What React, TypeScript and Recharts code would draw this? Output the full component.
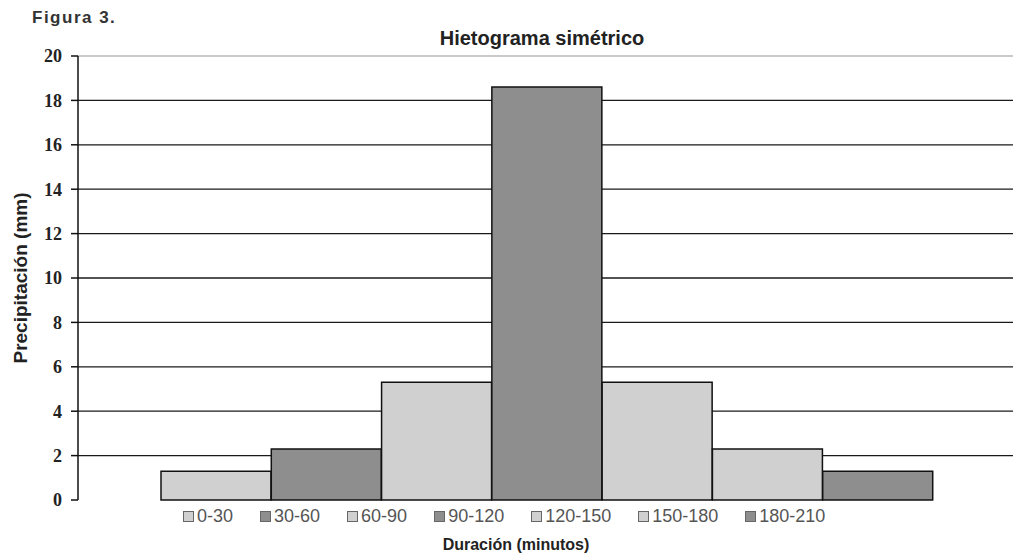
import {
  Bar,
  BarChart,
  CartesianGrid,
  Cell,
  Label,
  ReferenceLine,
  XAxis,
  YAxis,
} from "recharts";

const intervals = ["0-30", "30-60", "60-90", "90-120", "120-150", "150-180", "180-210"];
const precipitation = [1.3, 2.3, 5.3, 18.6, 5.3, 2.3, 1.3];
const shades = ["light", "dark", "light", "dark", "light", "light", "dark"];
const yTicks = [0, 2, 4, 6, 8, 10, 12, 14, 16, 18, 20];
const gridValues = [2, 4, 6, 8, 10, 12, 14, 16, 18];

const FILL: Record<string, string> = { light: "#d0d0d0", dark: "#8e8e8e" };
const SANS = "'Liberation Sans', Arial, sans-serif";

const data = intervals.map((name, i) => ({ name, value: precipitation[i], shade: shades[i] }));

export default function App() {
  return (
    <div
      style={{
        position: "absolute",
        left: 0,
        top: 0,
        width: 1014,
        height: 553,
        background: "#fff",
        fontFamily: SANS,
      }}
    >
      <div
        style={{
          position: "absolute",
          left: 32,
          top: 8,
          lineHeight: "20px",
          fontSize: 17,
          fontWeight: "bold",
          letterSpacing: 1.5,
          color: "#333",
        }}
      >
        Figura 3.
      </div>
      <div
        style={{
          position: "absolute",
          left: 542,
          top: 27,
          transform: "translateX(-50%)",
          lineHeight: "22px",
          fontSize: 20,
          fontWeight: "bold",
          color: "#222",
          whiteSpace: "nowrap",
        }}
      >
        Hietograma simétrico
      </div>

      <BarChart
        width={1014}
        height={553}
        data={data}
        barCategoryGap={0}
        margin={{ top: 56, right: 1, bottom: 53, left: 0 }}
      >
        <CartesianGrid
          vertical={false}
          horizontalValues={gridValues}
          stroke="#1a1a1a"
          strokeWidth={1.3}
        />
        <ReferenceLine y={20} stroke="#b8b8b8" strokeWidth={1.5} />
        <XAxis
          dataKey="name"
          height={0}
          tick={false}
          tickLine={false}
          axisLine={{ stroke: "#111", strokeWidth: 1.5 }}
          padding={{ left: 83, right: 80 }}
        />
        <YAxis
          width={78}
          domain={[0, 20]}
          ticks={yTicks}
          interval={0}
          tickSize={7}
          tickMargin={9}
          axisLine={{ stroke: "#111", strokeWidth: 1.5 }}
          tickLine={{ stroke: "#111", strokeWidth: 1.5 }}
          tick={{
            fontSize: 18,
            fontWeight: "bold",
            fontFamily: "'Liberation Serif', serif",
            fill: "#222",
          }}
        >
          <Label
            value="Precipitación (mm)"
            angle={-90}
            position="center"
            dx={-19}
            style={{ fontSize: 19, fontWeight: "bold", fontFamily: SANS, fill: "#222" }}
          />
        </YAxis>
        <Bar dataKey="value" stroke="#111" strokeWidth={1.5} isAnimationActive={false}>
          {data.map((d) => (
            <Cell key={d.name} fill={FILL[d.shade]} />
          ))}
        </Bar>
      </BarChart>

      <div
        style={{
          position: "absolute",
          left: 183,
          top: 505,
          display: "flex",
          gap: 27,
          fontSize: 18,
          lineHeight: "22px",
          color: "#555",
        }}
      >
        {data.map((d) => (
          <div key={d.name} style={{ display: "flex", alignItems: "center" }}>
            <span
              style={{
                display: "inline-block",
                width: 9,
                height: 9,
                border: "1.5px solid #666",
                background: FILL[d.shade],
                marginRight: 3,
              }}
            />
            {d.name}
          </div>
        ))}
      </div>

      <div
        style={{
          position: "absolute",
          left: 516,
          top: 535,
          transform: "translateX(-50%)",
          lineHeight: "20px",
          fontSize: 16,
          fontWeight: "bold",
          color: "#222",
          whiteSpace: "nowrap",
        }}
      >
        Duración (minutos)
      </div>
    </div>
  );
}
